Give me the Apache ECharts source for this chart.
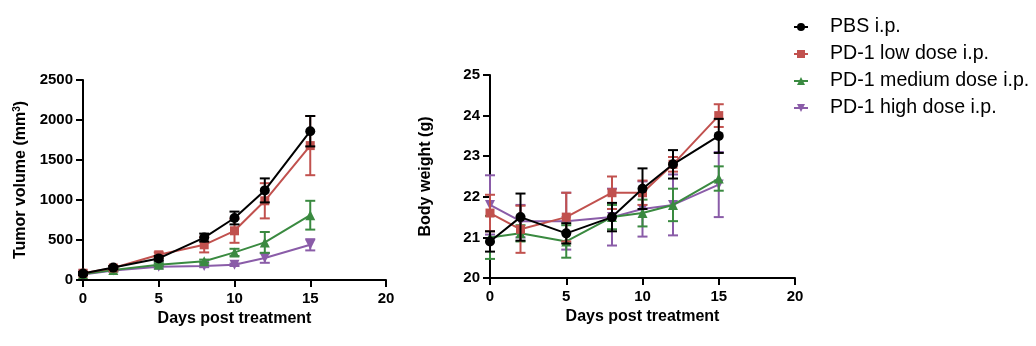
<!DOCTYPE html>
<html>
<head>
<meta charset="utf-8">
<script src="https://cdn.jsdelivr.net/npm/echarts@6/dist/echarts.min.js"></script>
<style>
  html, body { margin: 0; padding: 0; background: #fff; }
  #chart { width: 1036px; height: 346px; }
</style>
</head>
<body>
<div id="chart"></div>
<script>
// Measurement days
const days = [0, 2, 5, 8, 10, 12, 15];

// Group names
const groupNames = ['PBS i.p.', 'PD-1 low dose i.p.', 'PD-1 medium dose i.p.', 'PD-1 high dose i.p.'];

// Tumor volume (mm^3): mean and error
const tumorPBS = [80, 155, 270, 530, 775, 1120, 1860];
const tumorPBSErr = [20, 20, 30, 50, 80, 150, 190];
const tumorLow = [85, 150, 315, 440, 615, 990, 1680];
const tumorLowErr = [20, 20, 30, 95, 150, 220, 370];
const tumorMed = [75, 125, 190, 235, 345, 470, 810];
const tumorMedErr = [15, 15, 20, 20, 45, 130, 180];
const tumorHigh = [70, 120, 165, 175, 190, 275, 440];
const tumorHighErr = [10, 15, 20, 15, 15, 60, 70];

// Body weight (g): mean and error
const weightPBS = [20.9, 21.5, 21.1, 21.5, 22.2, 22.8, 23.5];
const weightPBSErr = [0.25, 0.58, 0.25, 0.35, 0.5, 0.35, 0.42];
const weightLow = [21.6, 21.2, 21.5, 22.1, 22.1, 22.8, 24.0];
const weightLowErr = [0.45, 0.58, 0.6, 0.4, 0.3, 0.18, 0.28];
const weightMed = [21.0, 21.1, 20.9, 21.5, 21.6, 21.8, 22.45];
const weightMedErr = [0.53, 0.2, 0.4, 0.3, 0.33, 0.4, 0.3];
const weightHigh = [21.8, 21.4, 21.4, 21.5, 21.7, 21.8, 22.3];
const weightHighErr = [0.73, 0.4, 0.7, 0.7, 0.68, 0.75, 0.8];

// Axis ticks
const xTicks = { min: 0, max: 20, interval: 5 };
const tumorTicks = { min: 0, max: 2500, interval: 500 };
const weightTicks = { min: 20, max: 25, interval: 1 };

const colors = ['#000000', '#c1514e', '#3a8a40', '#8a5ca8'];
const symbols = ['circle', 'rect', 'triangle', 'path://M0,0 L10,0 L5,9 Z'];
const symbolSizes = [10, 9, 10, 10];

const tumorSets = [[tumorPBS, tumorPBSErr], [tumorLow, tumorLowErr], [tumorMed, tumorMedErr], [tumorHigh, tumorHighErr]];
const weightSets = [[weightPBS, weightPBSErr], [weightLow, weightLowErr], [weightMed, weightMedErr], [weightHigh, weightHighErr]];

const font = 'Liberation Sans, Arial, sans-serif';

function errorRenderer(color) {
  return function (params, api) {
    const x = api.value(0);
    const top = api.coord([x, api.value(2)]);
    const bot = api.coord([x, api.value(1)]);
    const half = 5;
    const style = { stroke: color, lineWidth: 2 };
    return {
      type: 'group',
      children: [
        { type: 'line', shape: { x1: top[0], y1: top[1], x2: bot[0], y2: bot[1] }, style: style },
        { type: 'line', shape: { x1: top[0] - half, y1: top[1], x2: top[0] + half, y2: top[1] }, style: style },
        { type: 'line', shape: { x1: bot[0] - half, y1: bot[1], x2: bot[0] + half, y2: bot[1] }, style: style }
      ]
    };
  };
}

function buildSeries(sets, axisIndex) {
  const out = [];
  // draw from last group to first so the PBS group ends on top
  for (let g = sets.length - 1; g >= 0; g--) {
    const mean = sets[g][0], err = sets[g][1];
    out.push({
      type: 'custom',
      name: groupNames[g] + ' err',
      xAxisIndex: axisIndex,
      yAxisIndex: axisIndex,
      renderItem: errorRenderer(colors[g]),
      data: days.map((d, i) => [d, mean[i] - err[i], mean[i] + err[i]]),
      z: 2 + (sets.length - g) * 2,
      silent: true
    });
    out.push({
      type: 'line',
      name: groupNames[g],
      xAxisIndex: axisIndex,
      yAxisIndex: axisIndex,
      data: days.map((d, i) => [d, mean[i]]),
      symbol: symbols[g],
      symbolSize: symbolSizes[g],
      showAllSymbol: true,
      itemStyle: { color: colors[g] },
      lineStyle: { color: colors[g], width: 2 },
      z: 3 + (sets.length - g) * 2,
      animation: false
    });
  }
  return out;
}

const plainNumber = v => String(v);

function xAxis(gridIndex) {
  return {
    type: 'value', gridIndex: gridIndex,
    min: xTicks.min, max: xTicks.max, interval: xTicks.interval,
    name: 'Days post treatment', nameLocation: 'middle', nameGap: 29,
    nameTextStyle: { fontFamily: font, fontSize: 16, fontWeight: 'bold', color: '#000' },
    axisLine: { show: true, lineStyle: { color: '#000', width: 2 } },
    axisTick: { show: true, inside: false, length: 7, lineStyle: { color: '#000', width: 2 } },
    axisLabel: { fontFamily: font, fontSize: 15, fontWeight: 'bold', color: '#000', margin: 11, formatter: plainNumber },
    splitLine: { show: false }
  };
}

function yAxis(gridIndex, ticks, name, gap) {
  return {
    type: 'value', gridIndex: gridIndex,
    min: ticks.min, max: ticks.max, interval: ticks.interval,
    name: name, nameLocation: 'middle', nameGap: gap, nameRotate: 90,
    nameTextStyle: {
      fontFamily: font, fontSize: 16, fontWeight: 'bold', color: '#000',
      rich: { sup: { fontFamily: font, fontSize: 10, fontWeight: 'bold', color: '#000', verticalAlign: 'top', padding: [0, 0, 8, 0] } }
    },
    axisLine: { show: true, lineStyle: { color: '#000', width: 2 } },
    axisTick: { show: true, inside: false, length: 7, lineStyle: { color: '#000', width: 2 } },
    axisLabel: { fontFamily: font, fontSize: 15, fontWeight: 'bold', color: '#000', margin: 10, formatter: plainNumber },
    splitLine: { show: false }
  };
}

const chart = echarts.init(document.getElementById('chart'), null, { renderer: 'canvas' });
chart.setOption({
  backgroundColor: '#fff',
  animation: false,
  grid: [
    { left: 83, right: 650, top: 80, bottom: 66 },
    { left: 490, right: 241, top: 75, bottom: 68 }
  ],
  xAxis: [xAxis(0), xAxis(1)],
  yAxis: [
    yAxis(0, tumorTicks, 'Tumor volume (mm{sup|3})', 53),
    yAxis(1, weightTicks, 'Body weight (g)', 56)
  ],
  legend: {
    data: groupNames,
    orient: 'vertical',
    left: 793, top: 17,
    padding: 0,
    itemWidth: 14, itemHeight: 10, itemGap: 7,
    textStyle: { fontFamily: font, fontSize: 19.6, color: '#000', padding: [0, 0, 0, 17] },
    selectedMode: false
  },
  series: buildSeries(tumorSets, 0).concat(buildSeries(weightSets, 1))
});
</script>
</body>
</html>
